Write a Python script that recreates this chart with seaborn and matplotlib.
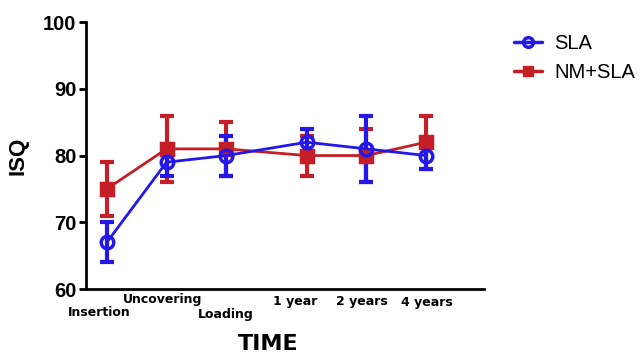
import numpy as np
import pandas as pd
import matplotlib
matplotlib.use("Agg")
import matplotlib.pyplot as plt
import matplotlib.transforms as mtrans
import seaborn as sns

# time points (uneven spacing as drawn in the figure)
times = ["Insertion", "Uncovering", "Loading", "1 year", "2 years", "4 years"]
time_pos = [0, 1, 2, 3.35, 4.35, 5.35]

sla_mean = [67, 79, 80, 82, 81, 80]
sla_sd = [3, 2, 3, 2, 5, 2]
nm_mean = [75, 81, 81, 80, 80, 82]
nm_sd = [4, 5, 4, 3, 4, 4]

blue = "#2418e8"
red = "#c41e26"

df = pd.DataFrame({
    "pos": time_pos * 2,
    "ISQ": sla_mean + nm_mean,
    "sd": sla_sd + nm_sd,
    "group": ["SLA"] * 6 + ["NM+SLA"] * 6,
})

sns.set_style("white")
plt.rcParams["font.family"] = ["Liberation Sans", "DejaVu Sans"]
plt.rcParams["text.color"] = "black"
plt.rcParams["xtick.color"] = "black"
plt.rcParams["ytick.color"] = "black"
plt.rcParams["axes.labelcolor"] = "black"

fig = plt.figure(figsize=(6.44, 3.54), dpi=100)
ax = fig.add_axes([0.1335, 0.1836, 0.618, 0.754])

# red drawn first, blue on top
for grp, col, mk, mfc, ms in [("NM+SLA", red, "s", red, 8), ("SLA", blue, "o", "none", 9)]:
    d = df[df["group"] == grp]
    ax.errorbar(d["pos"], d["ISQ"], yerr=d["sd"], fmt="none", ecolor=col,
                elinewidth=3, capsize=5, capthick=3, zorder=2)
    sns.lineplot(data=d, x="pos", y="ISQ", color=col, marker=mk, markersize=ms,
                 markerfacecolor=mfc, markeredgecolor=col, markeredgewidth=2.5,
                 linewidth=2, ax=ax, zorder=3, legend=False)

ax.set_xlim(-0.35, 6.32)
ax.set_ylim(60, 100)
ax.set_yticks([60, 70, 80, 90, 100])
ax.tick_params(axis="y", length=5, width=2, labelsize=14.5, direction="out", left=True, pad=2)
for t in ax.get_yticklabels():
    t.set_fontweight("bold")

ax.set_xticks(time_pos, times)
ax.tick_params(axis="x", length=0, labelsize=9, pad=4)
# staggered tick labels as in the original figure
offsets = [(-8, -11), (-4, 2), (0, -13), (-12, 0), (-5, 0), (1, -1)]
for lab, (dx, dy) in zip(ax.get_xticklabels(), offsets):
    lab.set_fontweight("bold")
    lab.set_fontfamily("DejaVu Sans")
    lab.set_transform(lab.get_transform() +
                      mtrans.ScaledTranslation(dx / 100, dy / 100, fig.dpi_scale_trans))

for s in ["top", "right"]:
    ax.spines[s].set_visible(False)
for s in ["left", "bottom"]:
    ax.spines[s].set_linewidth(2)
    ax.spines[s].set_color("black")

ax.set_ylabel("ISQ", fontsize=16, fontweight="bold", labelpad=10)
ax.set_xlabel("")
fig.text(0.416, 0.0, "TIME", fontsize=16, fontweight="bold", ha="center", va="bottom",
         family="DejaVu Sans")

handles = [
    plt.Line2D([], [], color=blue, marker="o", markersize=7, markerfacecolor="none",
               markeredgewidth=2.5, linewidth=2.5),
    plt.Line2D([], [], color=red, marker="s", markersize=7, linewidth=2.5),
]
fig.legend(handles, ["SLA", "NM+SLA"], loc="upper left", bbox_to_anchor=(0.77, 0.955),
           frameon=False, fontsize=14.5, handlelength=1.4, handletextpad=0.6,
           labelspacing=0.5)

fig.savefig("out.png", dpi=100)
